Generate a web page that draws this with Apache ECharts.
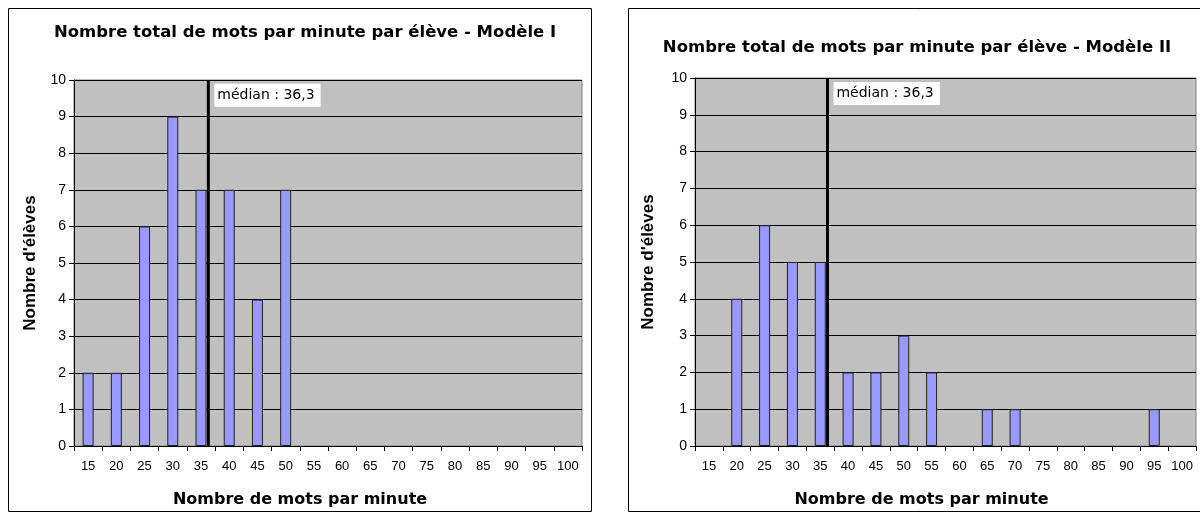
<!DOCTYPE html>
<html>
<head>
<meta charset="utf-8">
<script src="https://cdn.jsdelivr.net/npm/echarts@6/dist/echarts.min.js"></script>
<style>
  body { margin: 0; background: #ffffff; }
  #main { width: 1200px; height: 520px; }
</style>
</head>
<body>
<div id="main"></div>
<script>
// categories (mots par minute)
var categories = ['15', '20', '25', '30', '35', '40', '45', '50', '55', '60', '65', '70', '75', '80', '85', '90', '95', '100'];
// nombre d'élèves, modèle I
var modele1 = [2, 2, 6, 9, 7, 7, 4, 7, 0, 0, 0, 0, 0, 0, 0, 0, 0, 0];
// nombre d'élèves, modèle II
var modele2 = [0, 4, 6, 5, 5, 2, 2, 3, 2, 0, 1, 1, 0, 0, 0, 0, 1, 0];
// médiane affichée sur les deux graphiques
var medians = [36.3, 36.3];
var medianLabels = ['médian : 36,3', 'médian : 36,3'];
var titles = [
  'Nombre total de mots par minute par élève - Modèle I',
  'Nombre total de mots par minute par élève - Modèle II'
];

var font = 'Liberation Sans, Arial, sans-serif';
var wideFont = 'DejaVu Sans, Liberation Sans, sans-serif';
var chart = echarts.init(document.getElementById('main'), null, { renderer: 'canvas' });

// position des zones de tracé + petits décalages des titres d'axes
var grids = [
  { left: 74, width: 508, top: 80, height: 366, yGap: 35, xShift: 56 },
  { left: 695, width: 501, top: 78, height: 368, yGap: 38, xShift: 48 }
];

var option = {
  backgroundColor: '#ffffff',
  animation: false,
  title: [
    { text: titles[0], left: 300, top: 19, textAlign: 'center',
      textStyle: { fontFamily: wideFont, fontSize: 16.5, fontWeight: 'bold', color: '#000' } },
    { text: titles[1], left: 912, top: 34, textAlign: 'center',
      textStyle: { fontFamily: wideFont, fontSize: 16.5, fontWeight: 'bold', color: '#000' } }
  ],
  graphic: [
    { type: 'rect', shape: { x: 8.5, y: 8.5, width: 583, height: 503 },
      style: { fill: 'none', stroke: '#000', lineWidth: 1 }, z: -1 },
    { type: 'rect', shape: { x: 628.5, y: 8.5, width: 600, height: 503 },
      style: { fill: 'none', stroke: '#000', lineWidth: 1 }, z: -1 }
  ],
  grid: [],
  xAxis: [],
  yAxis: [],
  series: []
};

var datasets = [modele1, modele2];

for (var i = 0; i < 2; i++) {
  option.grid.push({
    left: grids[i].left, width: grids[i].width, top: grids[i].top, height: grids[i].height,
    show: true, backgroundColor: '#C0C0C0', borderColor: '#808080', borderWidth: 1
  });
  // axe des catégories (étiquettes + graduations)
  option.xAxis.push({
    type: 'category', gridIndex: i, data: categories, boundaryGap: true,
    name: 'Nombre de mots par minute', nameLocation: 'middle', nameGap: 46,
    nameTextStyle: { fontFamily: wideFont, fontSize: 16, fontWeight: 'bold', color: '#000',
      padding: [0, grids[i].xShift, 0, 0] },
    axisLine: { lineStyle: { color: '#000', width: 1 } },
    axisTick: { show: true, length: 5, lineStyle: { color: '#000' } },
    axisLabel: { fontFamily: font, fontSize: 13, color: '#000', margin: 14, interval: 0 },
    splitLine: { show: false }
  });
  // axe de valeurs caché pour placer la médiane
  option.xAxis.push({
    type: 'value', gridIndex: i, min: 12.5, max: 102.5, show: false, splitLine: { show: false }
  });
  option.yAxis.push({
    type: 'value', gridIndex: i, min: 0, max: 10, interval: 1,
    name: "Nombre d'élèves", nameLocation: 'middle', nameGap: grids[i].yGap,
    nameTextStyle: { fontFamily: font, fontSize: 17, fontWeight: 'bold', color: '#000' },
    axisLine: { show: true, lineStyle: { color: '#000', width: 1 } },
    axisTick: { show: true, length: 5, lineStyle: { color: '#000' } },
    axisLabel: { fontFamily: font, fontSize: 14, color: '#000', margin: 8 },
    splitLine: { show: true, lineStyle: { color: '#000', width: 1 } }
  });

  // les classes vides ne sont pas dessinées
  option.series.push({
    type: 'bar', xAxisIndex: i * 2, yAxisIndex: i,
    data: datasets[i].map(function (v) { return v === 0 ? null : v; }),
    barWidth: 11,
    itemStyle: { color: '#9999FF', borderColor: '#222', borderWidth: 1 }
  });

  option.series.push({
    type: 'line', xAxisIndex: i * 2 + 1, yAxisIndex: i,
    data: [[medians[i], 0], [medians[i], 10]],
    symbol: 'none', z: 5,
    lineStyle: { color: '#000', width: 3 },
    markPoint: {
      symbol: 'circle', symbolSize: 0,
      data: [{ coord: [medians[i], 9.58], value: medianLabels[i] }],
      label: {
        show: true, position: 'right', distance: 6,
        formatter: medianLabels[i],
        fontFamily: wideFont, fontSize: 14, color: '#000',
        backgroundColor: '#ffffff', padding: [5, 6, 4, 3]
      }
    }
  });
}

chart.setOption(option);
</script>
</body>
</html>
